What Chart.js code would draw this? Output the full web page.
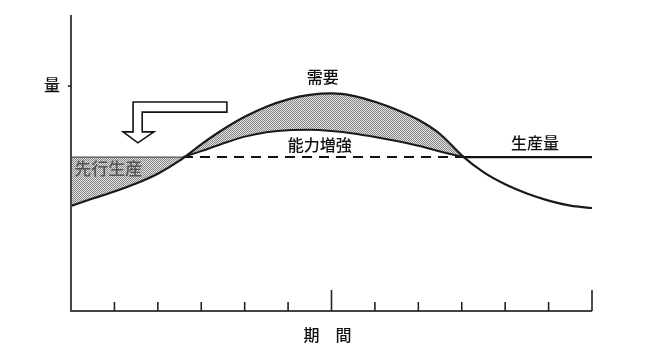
<!DOCTYPE html>
<html>
<head>
<meta charset="utf-8">
<script src="https://cdn.jsdelivr.net/npm/chart.js@4"></script>
<style>
  body { margin: 0; background: #fff; }
  #wrap { width: 667px; height: 350px; }
</style>
</head>
<body>
<div id="wrap"><canvas id="cycleChart"></canvas></div>
<script>
// 期間 (x) と 量 (y) – 目盛は 0〜12 期, 量は 0〜100
const demandX = [0, 0.5, 1, 1.5, 2, 2.5, 3, 3.5, 4, 4.5, 5, 5.5, 6, 6.5, 7, 7.5, 8, 8.5, 9, 9.5, 10, 10.5, 11, 11.5, 12];
const demand  = [35.5, 38, 40.4, 43.1, 46.4, 50.8, 56.3, 61.3, 65.6, 69, 71.5, 73, 73.5, 72.7, 70.7, 68, 64.6, 59.8, 52.6, 46.9, 42.8, 39.7, 37.3, 35.6, 34.8];

const capacityX = [2.58, 3, 3.5, 4, 4.5, 5, 5.5, 6, 6.5, 7, 7.5, 8, 8.5, 9.03];
const capacity  = [52, 54, 56.6, 58.9, 60.4, 61.1, 61.2, 60.8, 60, 58.8, 57.4, 55.8, 53.9, 52];

const production = 52;              // 生産量
const crossings = [2.58, 9.03];     // 需要と生産量の交点
const xTicks = [1, 2, 3, 4, 5, 6, 7, 8, 9, 10, 11, 12];
const tallTicks = [6, 12];
const quantityMark = 76;            // 縦軸「量」の目印

const pts = (xs, ys) => xs.map((x, i) => ({ x: x, y: ys[i] }));

// 網かけパターン (1px 市松)
const pc = document.createElement('canvas');
pc.width = 2; pc.height = 2;
const pctx = pc.getContext('2d');
pctx.fillStyle = '#e0e0e0';
pctx.fillRect(0, 0, 2, 2);
pctx.fillStyle = '#888';
pctx.fillRect(0, 0, 1, 1);
pctx.fillRect(1, 1, 1, 1);
const hatch = pctx.createPattern(pc, 'repeat');

const FONT = '"Noto Sans CJK JP", "Noto Sans CJK SC", sans-serif';

const decor = {
    id: 'decor',
    afterDraw(chart) {
        const { ctx, scales: { x, y } } = chart;
        const x0 = x.getPixelForValue(0), y0 = y.getPixelForValue(0);
        const yTop = y.getPixelForValue(100), xEnd = x.getPixelForValue(12);
        ctx.save();

        // 軸
        ctx.strokeStyle = '#444';
        ctx.lineWidth = 2;
        ctx.beginPath();
        ctx.moveTo(x0, yTop);
        ctx.lineTo(x0, y0);
        ctx.lineTo(xEnd, y0);
        ctx.stroke();

        // 目盛 (上向き)
        ctx.lineWidth = 1.6;
        ctx.strokeStyle = '#222';
        xTicks.forEach(t => {
            const px = x.getPixelForValue(t);
            const len = tallTicks.includes(t) ? 21 : 9;
            ctx.beginPath();
            ctx.moveTo(px, y0);
            ctx.lineTo(px, y0 - len);
            ctx.stroke();
        });
        const qy = y.getPixelForValue(quantityMark);
        ctx.beginPath();
        ctx.moveTo(x0 - 3, qy);
        ctx.lineTo(x0, qy);
        ctx.stroke();

        // 矢印 (L字の白抜き)
        const arrow = [[3.59, 70.6], [1.43, 70.6], [1.43, 60.5], [1.2, 60.5], [1.54, 56.8],
                       [1.91, 60.5], [1.64, 60.5], [1.64, 67.2], [3.59, 67.2]];
        ctx.beginPath();
        arrow.forEach((p, i) => {
            const px = x.getPixelForValue(p[0]), py = y.getPixelForValue(p[1]);
            if (i === 0) ctx.moveTo(px, py); else ctx.lineTo(px, py);
        });
        ctx.closePath();
        ctx.fillStyle = '#fff';
        ctx.fill();
        ctx.strokeStyle = '#111';
        ctx.lineWidth = 1.6;
        ctx.stroke();

        // 文字
        ctx.textAlign = 'center';
        ctx.textBaseline = 'middle';
        const label = (txt, vx, vy, size, color) => {
            ctx.font = '500 ' + size + 'px ' + FONT;
            ctx.fillStyle = color;
            ctx.fillText(txt, x.getPixelForValue(vx), y.getPixelForValue(vy));
        };
        label('需要', 5.8, 79, 16, '#111');
        label('能力増強', 5.73, 56, 16, '#111');
        label('生産量', 10.69, 56.8, 16, '#111');
        label('先行生産', 0.86, 48, 17, '#555');

        ctx.font = '500 16px ' + FONT;
        ctx.fillStyle = '#111';
        ctx.fillText('量', x0 - 19, qy - 1);
        ctx.fillText('期\u3000間', (x0 + xEnd) / 2 - 4, y0 + 24);
        ctx.restore();
    }
};

new Chart(document.getElementById('cycleChart'), {
    type: 'line',
    data: {
        datasets: [
            {   // 需要
                data: pts(demandX, demand),
                borderColor: '#1a1a1a', borderWidth: 2.2,
                cubicInterpolationMode: 'monotone', fill: false
            },
            {   // 能力増強
                data: pts(capacityX, capacity),
                borderColor: '#1a1a1a', borderWidth: 2,
                cubicInterpolationMode: 'monotone',
                fill: { target: 0 }, backgroundColor: hatch
            },
            {   // 先行生産 (生産量 左側)
                data: [{ x: 0, y: production }, { x: crossings[0], y: production }],
                borderColor: '#333', borderWidth: 1,
                fill: { target: 0 }, backgroundColor: hatch
            },
            {   // 生産量 (破線部)
                data: [{ x: crossings[0], y: production }, { x: crossings[1], y: production }],
                borderColor: '#111', borderWidth: 2, borderDash: [10, 7], fill: false
            },
            {   // 生産量 (右側)
                data: [{ x: crossings[1], y: production }, { x: 12, y: production }],
                borderColor: '#111', borderWidth: 2.4, fill: false
            }
        ]
    },
    options: {
        responsive: true,
        maintainAspectRatio: false,
        animation: false,
        layout: { padding: { left: 71, right: 75, top: 15, bottom: 39 } },
        elements: { point: { radius: 0 } },
        plugins: { legend: { display: false }, tooltip: { enabled: false } },
        scales: {
            x: { type: 'linear', min: 0, max: 12, display: false },
            y: { min: 0, max: 100, display: false }
        }
    },
    plugins: [decor]
});
</script>
</body>
</html>
